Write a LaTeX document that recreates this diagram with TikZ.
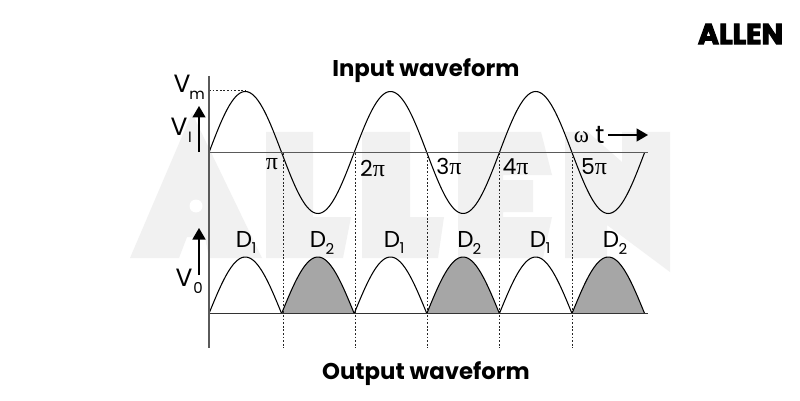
\documentclass[tikz,border=0pt]{standalone}
\usepackage{fontspec}
\setmainfont{Poppins}
\newfontfamily\symfont{Liberation Serif}
\newfontfamily\logofont[UprightFont=* Bold,FakeBold=3.5]{Poppins}
\usetikzlibrary{arrows.meta}
\definecolor{wm}{HTML}{F1F1F1}
\definecolor{axisgray}{HTML}{5A5A5A}
\definecolor{fillgray}{HTML}{A6A6A6}
\tikzset{
 wave/.style={black,line width=1.05pt,line join=round},
 axisline/.style={axisgray,line width=1.7pt},
 baseline/.style={black!80,line width=1.1pt},
 guide/.style={black!85,line width=1pt,dash pattern=on 1.8pt off 1.8pt},
 uparrow/.style={black,line width=1.7pt,-{Triangle[length=11.5pt,width=13pt]}},
 lbl/.style={inner sep=0pt,font=\fontsize{25}{27}\selectfont},
 sublbl/.style={inner sep=0pt,font=\fontsize{15}{17}\selectfont},
 tick/.style={inner sep=0pt,font=\fontsize{22}{24}\selectfont},
 dlbl/.style={inner sep=0pt,font=\fontsize{23}{25}\selectfont},
 title/.style={inner sep=0pt,font=\fontsize{22.8}{25}\selectfont\bfseries},
}
\newcommand{\piglyph}{{\symfont\fontsize{24}{26}\selectfont\char"03C0}}
\begin{document}
\begin{tikzpicture}[x=1pt,y=-1pt]
\useasboundingbox (0,0) rectangle (800,401);
\fill[white] (0,0) rectangle (800,401);
% watermark
\fill[wm] (130,258) -- (192,113) -- (262,258) -- (209,258) -- (205,237) -- (187,237) -- (179,258) -- cycle;
\fill[wm] (266,132) -- (313,132) -- (313,217) -- (351,217) -- (343,258) -- (266,258) -- cycle;
\fill[wm] (362,132) -- (410,132) -- (410,217) -- (444,217) -- (438,258) -- (362,258) -- cycle;
\fill[wm] (458,132) -- (541,132) -- (552,175) -- (503,175) -- (503,180) -- (533,180) -- (533,212) -- (503,212) -- (503,217) -- (552,217) -- (543,258) -- (458,258) -- cycle;
\fill[wm] (565,132) -- (588,132) -- (622,162) -- (622,132) -- (670,132) -- (670,272) -- (607,225) -- (607,258) -- (565,258) -- cycle;
\fill[white] (196,206) circle (6.5);
% shaded lobes
\foreach \a in {1,3,5}
 \fill[fillgray] plot[domain=0:1,samples=40,variable=\t] ({209+72.6*(\a+\t)},{313.5-56.5*sin(\t*180)}) -- cycle;
% guides
\foreach \x in {283,355,427,499,572} \draw[guide] (\x,153) -- (\x,348);
\coordinate (vmtop) at (246,91);
\coordinate (vmaxis) at (209,91);
\draw[guide] (vmaxis) -- (vmtop);
% input wave
\draw[wave] plot[domain=0:6,samples=240,variable=\t] ({209+72.6*\t},{152.5-61*sin(\t*180)});
% output lobes
\foreach \a in {0,1,2,3,4,5}
 \draw[wave] plot[domain=0:1,samples=40,variable=\t] ({209+72.6*(\a+\t)},{313.5-56.5*sin(\t*180)});
% axes
\draw[baseline] (209,313.5) -- (648,313.5);
\draw[axisline] (209,152.5) -- (648,152.5);
\draw[axisline] (209,76) -- (209,348);
% arrows
\coordinate (vis) at (199,152); \coordinate (vie) at (199,106);
\coordinate (vos) at (199,275); \coordinate (voe) at (199,228);
\coordinate (ws) at (608,135); \coordinate (we) at (648,135);
\draw[uparrow] (vis) -- (vie);
\draw[uparrow] (vos) -- (voe);
\draw[uparrow] (ws) -- (we);
% titles
\node[title] (tin) at (426,71) {Input waveform};
\node[title] (tout) at (426,374) {Output waveform};
% axis labels
\node[lbl] (vm) at (182,84) {V}; \node[sublbl] (vmsub) at (197,95) {m};
\node[lbl] (vi) at (179,127) {V}; \node[sublbl] (visub) at (190,137) {I};
\node[lbl] (vo) at (184,278) {V}; \node[sublbl] (vosub) at (198,288) {0};
\node[inner sep=0pt,font=\fontsize{23}{25}\selectfont] (om) at (581.5,137) {\symfont\char"03C9};
\node[lbl] (tt) at (600,135) {t};
% ticks
\node[tick] (p1) at (272,164) {\piglyph};
\node[tick] (p2) at (372.5,169) {2\piglyph};
\node[tick] (p3) at (449,167) {3\piglyph};
\node[tick] (p4) at (515.5,167) {4\piglyph};
\node[tick] (p5) at (594,167) {5\piglyph};
% diode labels
\foreach \n/\x/\sx/\s in {a/244/254/1,b/318/330/2,c/392/402/1,d/465.5/477/2,e/538/548/1,f/611/623/2}{
 \node[dlbl] (d\n) at (\x,239) {D};
 \node[sublbl] (s\n) at (\sx,248.5) {\s};
}
% logo
\node[inner sep=0pt,font=\logofont\fontsize{28.5}{30}\selectfont] (logo) at (740.5,34) {ALLEN};
\end{tikzpicture}
\end{document}
